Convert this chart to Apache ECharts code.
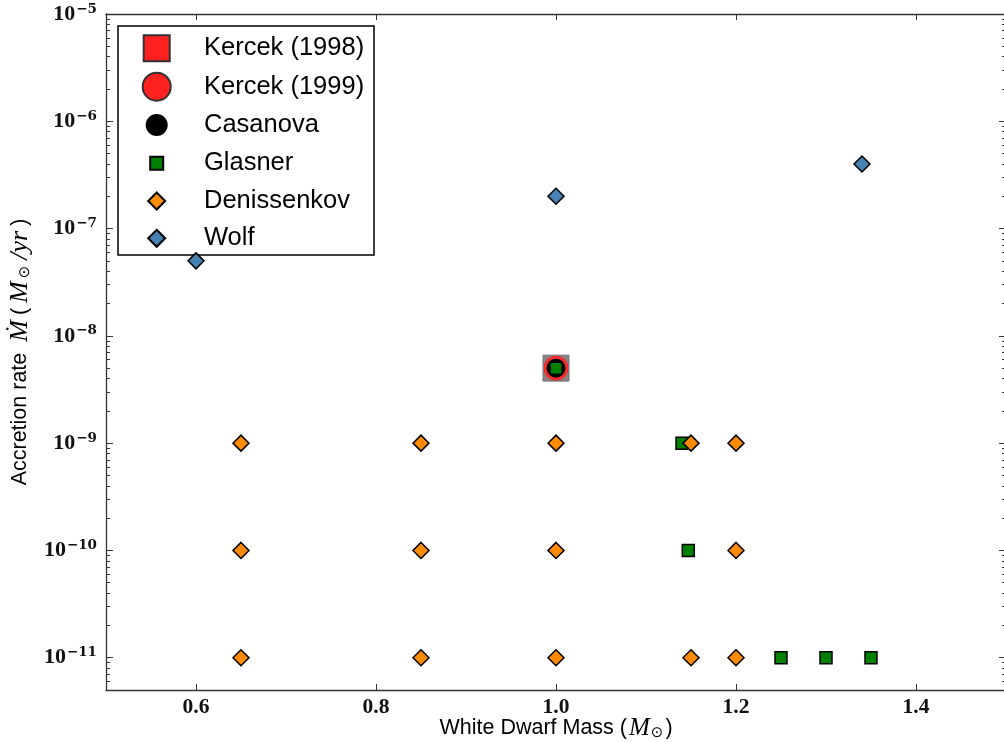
<!DOCTYPE html>
<html><head><meta charset="utf-8">
<script src="https://cdn.jsdelivr.net/npm/echarts@6/dist/echarts.min.js"></script>
<style>html,body{margin:0;padding:0;background:#fff}#c{width:1004px;height:742px}</style>
</head><body><div id="c"></div>
<script>
const kercek1998 = [[1.0, 5e-9]];
const kercek1999 = [[1.0, 5e-9]];
const casanova = [[1.0, 5e-9]];
const glasner = [[1.0, 5e-9], [1.14, 1e-9], [1.147, 1e-10], [1.25, 1e-11], [1.3, 1e-11], [1.35, 1e-11]];
const denissenkov = [
  [0.65, 1e-9], [0.85, 1e-9], [1.0, 1e-9], [1.15, 1e-9], [1.2, 1e-9],
  [0.65, 1e-10], [0.85, 1e-10], [1.0, 1e-10], [1.2, 1e-10],
  [0.65, 1e-11], [0.85, 1e-11], [1.0, 1e-11], [1.15, 1e-11], [1.2, 1e-11]
];
const wolf = [[0.6, 5e-8], [1.0, 2e-7], [1.34, 4e-7]];
const xTicks = [0.6, 0.8, 1.0, 1.2, 1.4];
const yTicks = [1e-11, 1e-10, 1e-9, 1e-8, 1e-7, 1e-6, 1e-5];
const yMin = 5e-12, yMax = 1e-5, xMin = 0.5, xMax = 1.5;

const yMinor = [];
for (let e = -12; e <= -6; e++) {
  for (let m = 2; m <= 9; m++) {
    const v = m * Math.pow(10, e);
    if (v >= yMin && v <= yMax) yMinor.push(v);
  }
}

const chart = echarts.init(document.getElementById('c'), null, {renderer: 'canvas'});
const lineCol = '#333';
const serif = 'Liberation Serif';
const sans = 'Liberation Sans';

function yAxisDef(pos, minor, labels) {
  return {
    type: 'log', logBase: 10, min: yMin, max: yMax, position: pos, gridIndex: 0,
    axisLine: {show: !minor, lineStyle: {color: lineCol, width: 1.3}},
    splitLine: {show: false},
    axisTick: {show: true, inside: true, length: minor ? 4 : 7,
      customValues: minor ? yMinor : yTicks, lineStyle: {color: lineCol, width: 1}},
    axisLabel: labels ? {
      show: true, customValues: yTicks, margin: 9,
      formatter: v => '{b|10}{s|−' + Math.round(-Math.log10(v)) + '}',
      rich: {
        b: {fontFamily: serif, fontSize: 22, fontWeight: 'bold', color: '#111', lineHeight: 24},
        s: {fontFamily: 'DejaVu Serif', fontSize: 13.5, fontWeight: 'bold', color: '#111', lineHeight: 14, verticalAlign: 'top', padding: [0, 0, 0, 1]}
      }
    } : {show: false}
  };
}

const legendItems = [
  {name: 'Kercek (1998)', size: 26, y: 48.3},
  {name: 'Kercek (1999)', size: 28, y: 86.7},
  {name: 'Casanova', size: 20, y: 125},
  {name: 'Glasner', size: 13, y: 163.3},
  {name: 'Denissenkov', size: 17, y: 201},
  {name: 'Wolf', size: 17, y: 238.3}
];
const iconCx = 155.7, textX = 203;
const legends = legendItems.map(it => ({
  data: [it.name], left: iconCx - it.size / 2, top: it.y - 15, padding: 0, z: 10,
  itemWidth: it.size, itemHeight: it.size,
  selectedMode: false,
  textStyle: {fontFamily: sans, fontSize: 25.5, color: '#000', lineHeight: 30,
    padding: [0, 0, 0, textX - (iconCx + it.size / 2 + 5)]}
}));

const edge = {borderColor: '#000', borderWidth: 1.5, opacity: 1};

chart.setOption({
  animation: false,
  backgroundColor: '#fff',
  grid: {left: 106, top: 14, width: 900, height: 676, outerBoundsMode: 'none', containLabel: false},
  legend: legends,
  graphic: [{type: 'rect', shape: {x: 118, y: 26, width: 256, height: 229}, z: 5,
    style: {fill: '#fff', stroke: '#000', lineWidth: 1.5}}],
  xAxis: [
    {type: 'value', min: xMin, max: xMax, position: 'bottom',
      axisLine: {lineStyle: {color: lineCol, width: 1.3}},
      splitLine: {show: false},
      axisTick: {inside: true, length: 6, customValues: xTicks, lineStyle: {color: lineCol}},
      axisLabel: {customValues: xTicks, margin: 6, formatter: v => v.toFixed(1),
        fontFamily: serif, fontSize: 21.5, fontWeight: 'bold', color: '#111'},
      name: '{a|White Dwarf Mass (}{m|M}{sub|⊙}{a|)}',
      nameLocation: 'middle', nameGap: 25, nameMoveOverlap: false,
      nameTextStyle: {rich: {
        a: {fontFamily: sans, fontSize: 21.5, color: '#000', lineHeight: 26},
        m: {fontFamily: serif, fontStyle: 'italic', fontSize: 25, color: '#000', lineHeight: 26, padding: [0, 1, 0, 2]},
        sub: {fontFamily: 'DejaVu Sans', fontSize: 15, color: '#000', verticalAlign: 'bottom', lineHeight: 18, padding: [0, 2, 0, 0]}
      }}
    },
    {type: 'value', min: xMin, max: xMax, position: 'top',
      axisLine: {lineStyle: {color: lineCol, width: 1.3}},
      splitLine: {show: false},
      axisTick: {inside: true, length: 6, customValues: xTicks, lineStyle: {color: lineCol}},
      axisLabel: {show: false}
    }
  ],
  yAxis: [
    Object.assign(yAxisDef('left', false, true), {
      name: '{a|Accretion rate }{m|Ṁ}{a|(}{m|M}{sub|⊙}{m|/yr}{a|)}',
      nameLocation: 'middle', nameGap: 72, nameRotate: 90,
      nameTextStyle: {rich: {
        a: {fontFamily: sans, fontSize: 21.5, color: '#000', lineHeight: 26, padding: [0, 2, 0, 2]},
        m: {fontFamily: serif, fontStyle: 'italic', fontSize: 26, color: '#000', lineHeight: 26, padding: [0, 3, 0, 3]},
        sub: {fontFamily: 'DejaVu Sans', fontSize: 15, color: '#000', verticalAlign: 'bottom', lineHeight: 18, padding: [0, 3, 0, 0]}
      }}
    }),
    yAxisDef('left', true, false),
    yAxisDef('right', false, false),
    yAxisDef('right', true, false)
  ],
  series: [
    {name: 'Kercek (1998)', type: 'scatter', symbol: 'rect', symbolSize: 26, z: 2,
      itemStyle: {color: '#ff2020', borderColor: '#333', borderWidth: 1.5, opacity: 1},
      data: kercek1998.map(p => ({value: p, itemStyle: {color: '#8c8080', borderColor: '#777', borderWidth: 1, opacity: 1}}))},
    {name: 'Kercek (1999)', type: 'scatter', symbol: 'circle', symbolSize: 24, z: 3,
      itemStyle: {color: '#ff2020', borderColor: '#333', borderWidth: 1.5, opacity: 1},
      data: kercek1999.map(p => ({value: p, itemStyle: {color: '#ff2a2a', borderColor: '#e03030', borderWidth: 1, opacity: 1}}))},
    {name: 'Casanova', type: 'scatter', symbol: 'circle', symbolSize: 18, z: 4,
      itemStyle: {color: '#000', borderColor: '#000', borderWidth: 1, opacity: 1}, data: casanova},
    {name: 'Glasner', type: 'scatter', symbol: 'rect', symbolSize: 12, z: 5,
      itemStyle: Object.assign({color: '#008000'}, edge), data: glasner},
    {name: 'Denissenkov', type: 'scatter', symbol: 'diamond', symbolSize: 16, z: 6,
      itemStyle: Object.assign({color: '#ff8c00'}, edge), data: denissenkov},
    {name: 'Wolf', type: 'scatter', symbol: 'diamond', symbolSize: 16, z: 7,
      itemStyle: Object.assign({color: '#4682b4'}, edge), data: wolf}
  ]
});
</script>
</body></html>
